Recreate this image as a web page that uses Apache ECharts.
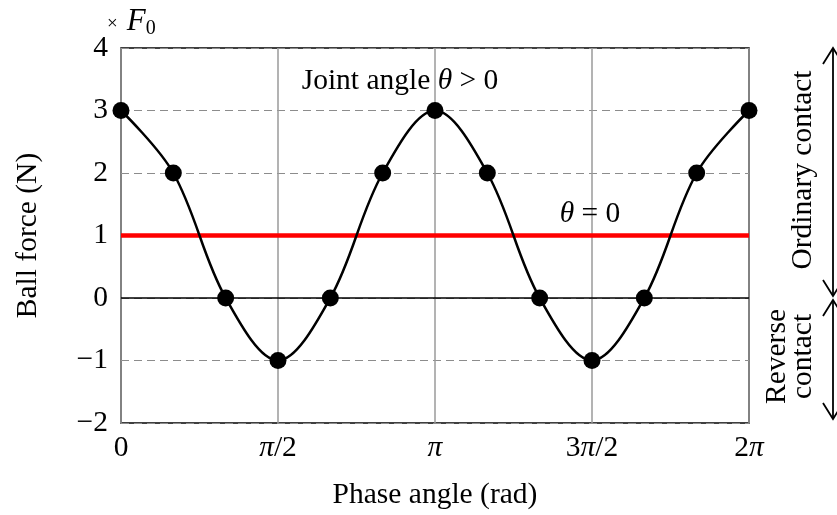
<!DOCTYPE html>
<html>
<head>
<meta charset="utf-8">
<title>Ball force vs phase angle</title>
<script src="https://cdn.jsdelivr.net/npm/echarts@6/dist/echarts.min.js"></script>
<style>
  html, body { margin: 0; padding: 0; background: #fff; }
  #chart { width: 837px; height: 515px; }
</style>
</head>
<body>
<div id="chart"></div>
<script>
// Phase angle in multiples of pi (0 .. 2pi, step pi/6)
const phase = [0, 1/6, 2/6, 3/6, 4/6, 5/6, 1, 7/6, 8/6, 9/6, 10/6, 11/6, 2];
// Ball force in units of F0 for a non-zero joint angle
const forceJoint = [3, 2, 0, -1, 0, 2, 3, 2, 0, -1, 0, 2, 3];
// Ball force for theta = 0 (constant)
const forceZero = [1, 1];
const zeroPhase = [0, 2];
// Axis tick labels
const xTickLabels = ['0', '{i|π}/2', '{i|π}', '3{i|π}/2', '2{i|π}'];
const yTickLabels = { '-2': '−2', '-1': '−1', '0': '0', '1': '1', '2': '2', '3': '3', '4': '4' };

const FONT = '"Liberation Serif", "Times New Roman", serif';
const FS = 29.5;

const chart = echarts.init(document.getElementById('chart'), null, { renderer: 'canvas' });

const jointData = phase.map((p, i) => [p, forceJoint[i]]);
const zeroData = zeroPhase.map((p, i) => [p, forceZero[i]]);
const baseData = zeroPhase.map(p => [p, 0]);

chart.setOption({
  animation: false,
  backgroundColor: '#fff',
  grid: {
    left: 121, right: 88, top: 48, bottom: 87,
    show: true, borderColor: '#000', borderWidth: 1.5, backgroundColor: 'transparent'
  },
  xAxis: {
    type: 'value', min: 0, max: 2, interval: 0.5,
    axisLine: { show: false }, axisTick: { show: false },
    splitLine: { show: true, lineStyle: { color: '#9a9a9a', width: 1.5, type: 'solid' } },
    axisLabel: {
      margin: 10,
      fontFamily: FONT, fontSize: FS, color: '#000',
      formatter: v => xTickLabels[Math.round(v / 0.5)],
      rich: { i: { fontFamily: FONT, fontStyle: 'italic', fontSize: FS, color: '#000' } }
    },
    name: 'Phase angle (rad)', nameLocation: 'middle', nameGap: 57,
    nameTextStyle: { fontFamily: FONT, fontSize: FS, color: '#000' }
  },
  yAxis: {
    type: 'value', min: -2, max: 4, interval: 1,
    axisLine: { show: false }, axisTick: { show: false },
    splitLine: { show: true, lineStyle: { color: '#8c8c8c', width: 1.2, type: [8, 5] } },
    axisLabel: {
      margin: 13,
      fontFamily: FONT, fontSize: FS, color: '#000',
      formatter: v => yTickLabels[String(v)]
    },
    name: 'Ball force (N)', nameLocation: 'middle', nameGap: 78, nameRotate: 90,
    nameTextStyle: { fontFamily: FONT, fontSize: FS, color: '#000' }
  },
  series: [
    {
      type: 'line', data: baseData, symbol: 'none', silent: true,
      lineStyle: { color: '#000', width: 1.5 }, z: 1
    },
    {
      type: 'line', data: zeroData, symbol: 'none', silent: true,
      lineStyle: { color: '#ff0000', width: 4.5 }, z: 2
    },
    {
      type: 'line', data: jointData, smooth: 0.35,
      symbol: 'circle', symbolSize: 17,
      itemStyle: { color: '#000' },
      lineStyle: { color: '#000', width: 2.5 }, z: 3
    }
  ]
});

// Annotations: unit marker, curve labels, contact-range arrows
const yTop = chart.convertToPixel({ yAxisIndex: 0 }, 4);
const yMid = chart.convertToPixel({ yAxisIndex: 0 }, 0);
const yBot = chart.convertToPixel({ yAxisIndex: 0 }, -2);
const ax = 833;
const ah = 16, aw = 10;

function arrowHead(x, y, dir) {
  return {
    type: 'polyline',
    shape: { points: [[x - aw, y + dir * ah], [x, y], [x + aw, y + dir * ah]] },
    style: { stroke: '#000', lineWidth: 1.8, fill: null }
  };
}

const textStyle = { fontFamily: FONT, fontSize: FS, fill: '#000' };
const italic = { fontFamily: FONT, fontSize: FS, fontStyle: 'italic', fill: '#000' };

chart.setOption({
  graphic: [
    {
      type: 'text', left: 107, top: 6,
      style: {
        text: '{x|×}{f|F}{s|0}',
        rich: {
          x: { fontFamily: FONT, fontSize: 19, fill: '#000', padding: [6, 0, 0, 0] },
          f: { fontFamily: FONT, fontSize: 31, fontStyle: 'italic', fill: '#000', padding: [0, 0, 0, 9] },
          s: { fontFamily: FONT, fontSize: 20, fill: '#000', padding: [14, 0, 0, 0] }
        }
      }
    },
    {
      type: 'text', x: 400, y: 81,
      style: {
        text: 'Joint angle {i|θ} > 0', align: 'center', verticalAlign: 'middle',
        fontFamily: FONT, fontSize: FS, fill: '#000',
        rich: { i: italic }
      }
    },
    {
      type: 'text', x: 590, y: 214,
      style: {
        text: '{i|θ} = 0', align: 'center', verticalAlign: 'middle',
        fontFamily: FONT, fontSize: FS, fill: '#000',
        rich: { i: italic }
      }
    },
    {
      type: 'text', x: 803, y: (yTop + yMid) / 2 - 3, rotation: Math.PI / 2,
      style: Object.assign({ text: 'Ordinary contact', align: 'center', verticalAlign: 'middle' }, textStyle)
    },
    {
      type: 'text', x: 790, y: (yMid + yBot) / 2 - 4, rotation: Math.PI / 2,
      style: Object.assign({ text: 'Reverse\ncontact', align: 'center', verticalAlign: 'middle', lineHeight: 26 }, textStyle)
    },
    { type: 'line', shape: { x1: ax, y1: yTop, x2: ax, y2: yMid - 2 }, style: { stroke: '#000', lineWidth: 1.8 } },
    arrowHead(ax, yTop, 1),
    arrowHead(ax, yMid - 2, -1),
    { type: 'line', shape: { x1: ax, y1: yMid + 2, x2: ax, y2: yBot - 4 }, style: { stroke: '#000', lineWidth: 1.8 } },
    arrowHead(ax, yMid + 2, 1),
    arrowHead(ax, yBot - 4, -1)
  ]
});
</script>
</body>
</html>
